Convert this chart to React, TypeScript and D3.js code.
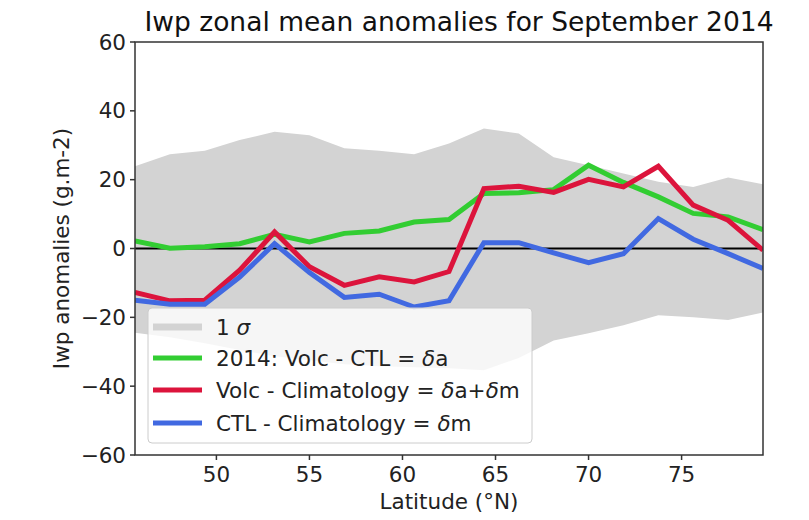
import React from "react";
import * as d3 from "d3";

const latitudes = [45.625, 47.5, 49.375, 51.25, 53.125, 55, 56.875, 58.75, 60.625, 62.5, 64.375, 66.25, 68.125, 70, 71.875, 73.75, 75.625, 77.5, 79.375];
const sigmaUpper = [23.9, 27.4, 28.4, 31.5, 33.9, 32.9, 29.1, 28.4, 27.4, 30.5, 34.9, 33.4, 26.5, 24.2, 21.8, 19.4, 17.9, 20.6, 18.7];
const sigmaLower = [-24.5, -25.8, -27.5, -29.5, -31.3, -32.5, -33.6, -34.2, -34.5, -34.8, -35.4, -31.8, -26.7, -24.6, -22.3, -19.4, -20.0, -20.8, -18.6];
const volcMinusCtl = [2.2, 0.1, 0.5, 1.4, 4.1, 1.9, 4.4, 5.1, 7.7, 8.4, 16.0, 16.2, 17.1, 24.2, 19.2, 15.0, 10.2, 9.2, 5.5];
const volcMinusClim = [-12.8, -15.2, -15.0, -6.3, 4.8, -5.3, -10.7, -8.2, -9.7, -6.7, 17.4, 18.1, 16.3, 20.1, 17.9, 23.9, 12.6, 8.2, -0.5];
const ctlMinusClim = [-15.0, -16.2, -16.2, -8.3, 1.4, -7.0, -14.2, -13.3, -17.0, -15.2, 1.7, 1.7, -1.3, -4.1, -1.5, 8.7, 2.7, -1.5, -5.8];
const xTicks = [50, 55, 60, 65, 70, 75];
const yTicks = [-60, -40, -20, 0, 20, 40, 60];

const W = 809, H = 520;
const left = 135, right = 763, top = 42, bottom = 455;
const FONT = "DejaVu Sans, sans-serif";

export default function App() {
  const x = d3.scaleLinear().domain([45.625, 79.375]).range([left, right]);
  const y = d3.scaleLinear().domain([-60, 60]).range([bottom, top]);
  const area = d3.area<number>()
    .x((_, i) => x(latitudes[i]))
    .y0((_, i) => y(sigmaLower[i]))
    .y1((_, i) => y(sigmaUpper[i]));
  const line = (vals: number[]) =>
    d3.line<number>().x((_, i) => x(latitudes[i])).y((d) => y(d))(vals) || "";

  const series = [
    { vals: volcMinusCtl, color: "#32CD32" },
    { vals: volcMinusClim, color: "#DC143C" },
    { vals: ctlMinusClim, color: "#4169E1" },
  ];

  const lx = 148, ly = 308, lw = 384, lh = 135;
  const entries = [
    { color: "#D3D3D3", width: 7, yy: 327 },
    { color: "#32CD32", width: 5, yy: 358 },
    { color: "#DC143C", width: 5, yy: 390 },
    { color: "#4169E1", width: 5, yy: 423 },
  ];
  const fs = 21.5;
  const labels = [
    <>1 <tspan fontStyle="italic">σ</tspan></>,
    <>2014: Volc - CTL = <tspan fontStyle="italic">δ</tspan>a</>,
    <>Volc - Climatology = <tspan fontStyle="italic">δ</tspan>a+<tspan fontStyle="italic">δ</tspan>m</>,
    <>CTL - Climatology = <tspan fontStyle="italic">δ</tspan>m</>,
  ];

  return (
    <svg width={W} height={H} style={{ position: "absolute", left: 0, top: 0 }} fontFamily={FONT}>
      <rect width={W} height={H} fill="white" />
      <defs>
        <clipPath id="plotclip">
          <rect x={left} y={top} width={right - left} height={bottom - top} />
        </clipPath>
      </defs>
      <g clipPath="url(#plotclip)">
        <path d={area(latitudes) || ""} fill="#D3D3D3" />
        <line x1={left} x2={right} y1={y(0)} y2={y(0)} stroke="black" strokeWidth={2} />
        {series.map((s, i) => (
          <path key={i} d={line(s.vals)} fill="none" stroke={s.color} strokeWidth={5} strokeLinejoin="miter" />
        ))}
      </g>
      {/* legend */}
      <rect x={lx} y={ly} width={lw} height={lh} rx={4} fill="white" fillOpacity={0.8} stroke="#cccccc" strokeWidth={1} />
      {entries.map((e, i) => (
        <g key={i}>
          <line x1={153} x2={202} y1={e.yy} y2={e.yy} stroke={e.color} strokeWidth={e.width} />
          <text x={216} y={e.yy} dy="0.35em" fontSize={fs} fill="#222">{labels[i]}</text>
        </g>
      ))}
      {/* spines */}
      <rect x={left} y={top} width={right - left} height={bottom - top} fill="none" stroke="#333" strokeWidth={1.5} />
      {/* y ticks */}
      {yTicks.map((t) => (
        <g key={t}>
          <line x1={left - 5} x2={left} y1={y(t)} y2={y(t)} stroke="#333" strokeWidth={1.5} />
          <text x={left - 9} y={y(t)} dy="0.35em" textAnchor="end" fontSize={fs} fill="#222">
            {t < 0 ? "\u2212" + Math.abs(t) : String(t)}
          </text>
        </g>
      ))}
      {/* x ticks */}
      {xTicks.map((t) => (
        <g key={t}>
          <line x1={x(t)} x2={x(t)} y1={bottom} y2={bottom + 5} stroke="#333" strokeWidth={1.5} />
          <text x={x(t)} y={bottom + 27} textAnchor="middle" fontSize={fs} fill="#222">{t}</text>
        </g>
      ))}
      <text x={(left + right) / 2} y={509} textAnchor="middle" fontSize={fs} fill="#222">Latitude (°N)</text>
      <text transform={`translate(69, ${(top + bottom) / 2}) rotate(-90)`} textAnchor="middle" fontSize={fs} fill="#222">
        Iwp anomalies (g.m-2)
      </text>
      <text x={459} y={31} textAnchor="middle" fontSize={26.5} fill="#111">Iwp zonal mean anomalies for September 2014</text>
    </svg>
  );
}
